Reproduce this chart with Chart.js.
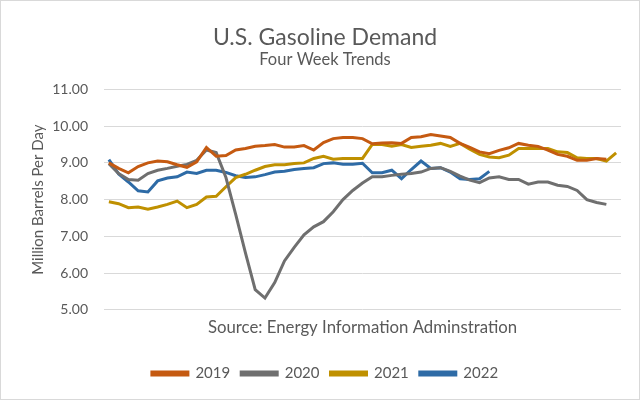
<!DOCTYPE html>
<html>
<head>
<meta charset="utf-8">
<script src="https://cdn.jsdelivr.net/npm/chart.js@4/dist/chart.umd.min.js"></script>
<style>
  html, body { margin: 0; padding: 0; background: #fff; }
  #wrap { width: 640px; height: 400px; box-sizing: border-box; border: 1px solid #d9d9d9; }
</style>
</head>
<body>
<div id="wrap"><canvas id="gas-canvas" width="638" height="398"></canvas></div>
<script>
// weekly four-week averages, million barrels per day
var weeks = [];
for (var w = 1; w <= 53; w++) weeks.push(String(w));

var y2019 = [9.00, 8.85, 8.73, 8.90, 9.00, 9.05, 9.03, 8.95, 8.88, 9.03,
             9.42, 9.18, 9.20, 9.35, 9.39, 9.45, 9.47, 9.50, 9.43, 9.43,
             9.47, 9.35, 9.55, 9.66, 9.69, 9.69, 9.66, 9.52, 9.54, 9.55,
             9.53, 9.69, 9.71, 9.77, 9.73, 9.69, 9.53, 9.42, 9.30, 9.25,
             9.34, 9.41, 9.53, 9.48, 9.45, 9.35, 9.23, 9.18, 9.07, 9.07,
             9.12, 9.10];
var y2020 = [8.98, 8.71, 8.55, 8.53, 8.71, 8.80, 8.85, 8.91, 8.96, 9.07,
             9.35, 9.28, 8.60, 7.60, 6.55, 5.55, 5.32, 5.74, 6.33, 6.70,
             7.04, 7.26, 7.40, 7.67, 8.00, 8.25, 8.45, 8.62, 8.62, 8.66,
             8.69, 8.71, 8.75, 8.85, 8.87, 8.77, 8.64, 8.53, 8.46, 8.59,
             8.62, 8.55, 8.55, 8.42, 8.48, 8.48, 8.39, 8.36, 8.25, 8.00,
             7.92, 7.87];
var y2021 = [7.94, 7.89, 7.78, 7.80, 7.74, 7.80, 7.87, 7.96, 7.78, 7.87,
             8.07, 8.09, 8.35, 8.60, 8.69, 8.80, 8.90, 8.95, 8.95, 8.98,
             9.00, 9.12, 9.18, 9.10, 9.12, 9.12, 9.12, 9.50, 9.50, 9.45,
             9.50, 9.42, 9.45, 9.48, 9.53, 9.45, 9.53, 9.37, 9.23, 9.16,
             9.14, 9.21, 9.39, 9.39, 9.39, 9.39, 9.30, 9.28, 9.14, 9.12,
             9.12, 9.05, 9.27];
var y2022 = [9.09, 8.70, 8.48, 8.24, 8.21, 8.51, 8.59, 8.62, 8.75, 8.71,
             8.80, 8.80, 8.74, 8.65, 8.60, 8.62, 8.68, 8.75, 8.77, 8.82,
             8.85, 8.87, 8.98, 9.00, 8.96, 8.96, 8.99, 8.73, 8.73, 8.80,
             8.57, 8.82, 9.05, 8.85, 8.87, 8.75, 8.57, 8.55, 8.57, 8.77];

var seriesNames = ["2019", "2020", "2021", "2022"];
var seriesColors = ["#C55A11", "#6F6F6F", "#BF9000", "#2E6BA6"];
var seriesValues = [y2019, y2020, y2021, y2022];

var textColor = "#595959";
var fontFamily = "Lato, 'Open Sans', sans-serif";

var datasets = seriesValues.map(function (vals, i) {
    return {
        label: seriesNames[i],
        data: vals,
        borderColor: seriesColors[i],
        backgroundColor: seriesColors[i],
        borderWidth: 3,
        pointRadius: 0,
        tension: 0,
        fill: false
    };
});

var gasChart = new Chart(document.getElementById("gas-canvas"), {
    type: "line",
    data: { labels: weeks, datasets: datasets },
    options: {
        responsive: false,
        animation: false,
        layout: { padding: { left: 28, right: 18, top: 23, bottom: 8 } },
        plugins: {
            title: {
                display: true,
                text: "U.S. Gasoline Demand",
                color: textColor,
                font: { family: fontFamily, size: 23, weight: "normal" },
                padding: { top: 0, bottom: 0 }
            },
            subtitle: {
                display: true,
                text: "Four Week Trends",
                color: textColor,
                font: { family: fontFamily, size: 16.5, weight: "normal" },
                padding: { top: -2, bottom: 20 }
            },
            legend: {
                position: "bottom",
                labels: {
                    color: textColor,
                    font: { family: fontFamily, size: 15 },
                    boxWidth: 36,
                    boxHeight: 3,
                    padding: 11
                }
            },
            tooltip: { enabled: false }
        },
        scales: {
            x: {
                type: "category",
                offset: true,
                grid: { display: false },
                border: { display: false },
                ticks: { display: false },
                title: {
                    display: true,
                    text: "Source: Energy Information Adminstration",
                    color: textColor,
                    font: { family: fontFamily, size: 16.8 },
                    padding: { top: 0, bottom: 17 }
                }
            },
            y: {
                min: 5,
                max: 11,
                afterFit: function (scale) { scale.width = 75; },
                ticks: {
                    stepSize: 1,
                    color: textColor,
                    font: { family: fontFamily, size: 14 },
                    padding: 16,
                    callback: function (v) { return Number(v).toFixed(2); }
                },
                grid: { color: "#D9D9D9", lineWidth: 1, drawTicks: false },
                border: { display: false },
                title: {
                    display: true,
                    text: "Million Barrels Per Day",
                    color: textColor,
                    font: { family: fontFamily, size: 15 },
                    padding: { top: 0, bottom: 0 }
                }
            }
        }
    }
});
</script>
</body>
</html>
